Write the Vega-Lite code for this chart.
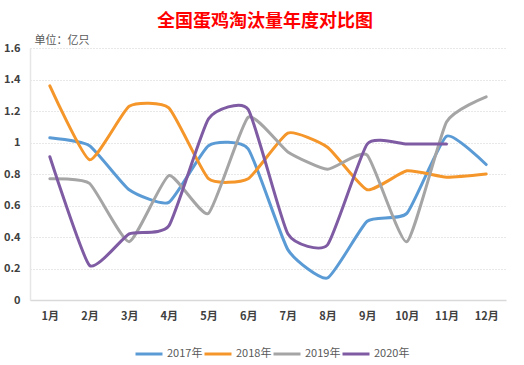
{
  "$schema": "https://vega.github.io/schema/vega-lite/v6.json",
  "autosize": "none",
  "width": 476,
  "height": 252,
  "padding": {"left": 30, "top": 48, "right": 18, "bottom": 65},
  "background": "white",
  "title": {
    "text": "全国蛋鸡淘汰量年度对比图",
    "color": "#FF0000",
    "font": "Noto Sans CJK SC",
    "fontSize": 18,
    "fontWeight": "bold",
    "anchor": "middle",
    "dx": -3,
    "offset": 3
  },
  "config": {
    "view": {"stroke": null},
    "font": "Noto Sans CJK SC"
  },
  "data": {
    "values": [
      {"month": "1月", "year": "2017年", "value": 1.03},
      {"month": "2月", "year": "2017年", "value": 0.98},
      {"month": "3月", "year": "2017年", "value": 0.70},
      {"month": "4月", "year": "2017年", "value": 0.62},
      {"month": "5月", "year": "2017年", "value": 0.98},
      {"month": "6月", "year": "2017年", "value": 0.96},
      {"month": "7月", "year": "2017年", "value": 0.32},
      {"month": "8月", "year": "2017年", "value": 0.14},
      {"month": "9月", "year": "2017年", "value": 0.50},
      {"month": "10月", "year": "2017年", "value": 0.55},
      {"month": "11月", "year": "2017年", "value": 1.04},
      {"month": "12月", "year": "2017年", "value": 0.86},
      {"month": "1月", "year": "2018年", "value": 1.36},
      {"month": "2月", "year": "2018年", "value": 0.89},
      {"month": "3月", "year": "2018年", "value": 1.23},
      {"month": "4月", "year": "2018年", "value": 1.22},
      {"month": "5月", "year": "2018年", "value": 0.77},
      {"month": "6月", "year": "2018年", "value": 0.77},
      {"month": "7月", "year": "2018年", "value": 1.06},
      {"month": "8月", "year": "2018年", "value": 0.97},
      {"month": "9月", "year": "2018年", "value": 0.70},
      {"month": "10月", "year": "2018年", "value": 0.82},
      {"month": "11月", "year": "2018年", "value": 0.78},
      {"month": "12月", "year": "2018年", "value": 0.80},
      {"month": "1月", "year": "2019年", "value": 0.77},
      {"month": "2月", "year": "2019年", "value": 0.74},
      {"month": "3月", "year": "2019年", "value": 0.37},
      {"month": "4月", "year": "2019年", "value": 0.79},
      {"month": "5月", "year": "2019年", "value": 0.55},
      {"month": "6月", "year": "2019年", "value": 1.16},
      {"month": "7月", "year": "2019年", "value": 0.94},
      {"month": "8月", "year": "2019年", "value": 0.83},
      {"month": "9月", "year": "2019年", "value": 0.92},
      {"month": "10月", "year": "2019年", "value": 0.37},
      {"month": "11月", "year": "2019年", "value": 1.13},
      {"month": "12月", "year": "2019年", "value": 1.29},
      {"month": "1月", "year": "2020年", "value": 0.91},
      {"month": "2月", "year": "2020年", "value": 0.22},
      {"month": "3月", "year": "2020年", "value": 0.42},
      {"month": "4月", "year": "2020年", "value": 0.47},
      {"month": "5月", "year": "2020年", "value": 1.15},
      {"month": "6月", "year": "2020年", "value": 1.21},
      {"month": "7月", "year": "2020年", "value": 0.42},
      {"month": "8月", "year": "2020年", "value": 0.35},
      {"month": "9月", "year": "2020年", "value": 0.99},
      {"month": "10月", "year": "2020年", "value": 0.99},
      {"month": "11月", "year": "2020年", "value": 0.99}
    ]
  },
  "mark": {"type": "line", "interpolate": "cardinal", "tension": 0.5, "strokeWidth": 3, "strokeCap": "round"},
  "encoding": {
    "x": {
      "field": "month",
      "type": "ordinal",
      "sort": ["1月","2月","3月","4月","5月","6月","7月","8月","9月","10月","11月","12月"],
      "scale": {"type": "point", "padding": 0.5},
      "axis": {
        "title": null,
        "labelAngle": 0,
        "ticks": false,
        "labelPadding": 10,
        "labelFontSize": 11,
        "labelFontWeight": "bold",
        "labelColor": "#404040",
        "domainColor": "#D9D9D9",
        "domainWidth": 1.5,
        "grid": false
      }
    },
    "y": {
      "field": "value",
      "type": "quantitative",
      "scale": {"domain": [0, 1.6], "nice": false},
      "axis": {
        "values": [0, 0.2, 0.4, 0.6, 0.8, 1, 1.2, 1.4, 1.6],
        "format": "~g",
        "title": "单位：亿只",
        "titleAngle": 0,
        "titleAlign": "left",
        "titleBaseline": "bottom",
        "titleX": 4,
        "titleY": -3,
        "titleFontSize": 11,
        "titleFontWeight": "normal",
        "titleColor": "#595959",
        "ticks": false,
        "labelPadding": 10,
        "labelFontSize": 11,
        "labelFontWeight": "bold",
        "labelColor": "#404040",
        "domainColor": "#E6E6E6",
        "domainWidth": 1.5,
        "grid": true,
        "gridColor": "#D0D0D0",
        "gridDash": [1, 2],
        "gridWidth": 1
      }
    },
    "color": {
      "field": "year",
      "type": "nominal",
      "scale": {
        "domain": ["2017年", "2018年", "2019年", "2020年"],
        "range": ["#5B9BD5", "#F5962A", "#A5A5A5", "#7E5BA3"]
      },
      "legend": {
        "title": null,
        "orient": "none",
        "direction": "horizontal",
        "legendX": 104,
        "legendY": 291,
        "symbolType": "stroke",
        "symbolSize": 729,
        "symbolStrokeWidth": 3,
        "labelFontSize": 11,
        "labelColor": "#595959",
        "labelOffset": 3,
        "columnPadding": -14
      }
    }
  }
}
